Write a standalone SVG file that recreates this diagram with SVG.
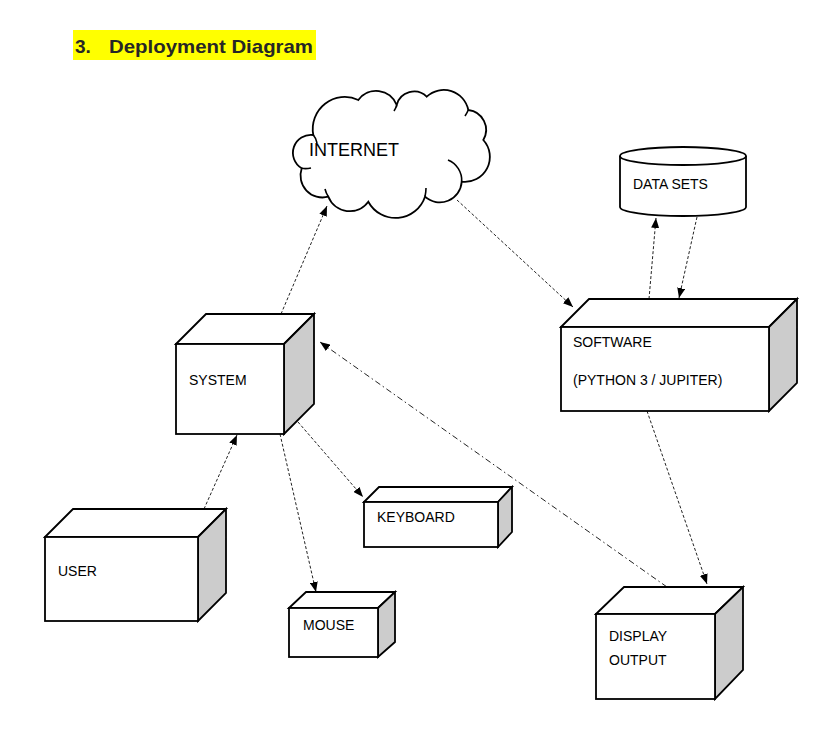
<svg xmlns="http://www.w3.org/2000/svg" width="823" height="731" viewBox="0 0 823 731">
<defs>
<style>
.face{fill:#fff;stroke:#000;stroke-width:1.8;stroke-linejoin:miter}
.side{fill:#cccccc;stroke:#000;stroke-width:1.8;stroke-linejoin:miter}
.lbl{font-family:"Liberation Sans",Arial,sans-serif;font-size:14px;fill:#000}
.conn{fill:none;stroke:#222;stroke-width:1;stroke-dasharray:3 2}
.dd{fill:none;stroke:#222;stroke-width:1;stroke-dasharray:6 3 1.5 3}
</style>
<marker id="arr" viewBox="0 0 10 8" refX="10" refY="4" markerWidth="10" markerHeight="8" markerUnits="userSpaceOnUse" orient="auto">
<path d="M0,0 L10,4 L0,8 z" fill="#000"/>
</marker>
</defs>
<rect width="823" height="731" fill="#fff"/>

<g id="title">
<rect x="73" y="30" width="243" height="30" fill="#ffff00"/>
<text x="75" y="53" font-family="'Liberation Sans',Arial,sans-serif" font-weight="bold" font-size="19" fill="#262626">3.</text>
<text x="109" y="53" font-family="'Liberation Sans',Arial,sans-serif" font-weight="bold" font-size="19" fill="#262626" textLength="204" lengthAdjust="spacingAndGlyphs">Deployment Diagram</text>
</g>

<g id="connectors">
<line class="conn" x1="281" y1="314" x2="327" y2="206" marker-end="url(#arr)"/>
<line class="conn" x1="457" y1="200" x2="573" y2="307" marker-end="url(#arr)"/>
<line class="conn" x1="649" y1="299" x2="656" y2="218" marker-end="url(#arr)"/>
<line class="conn" x1="697" y1="217" x2="679" y2="298" marker-end="url(#arr)"/>
<line class="conn" x1="204" y1="509" x2="237" y2="435" marker-end="url(#arr)"/>
<line class="conn" x1="280" y1="434" x2="316" y2="592" marker-end="url(#arr)"/>
<line class="conn" x1="298" y1="422" x2="363" y2="497" marker-end="url(#arr)"/>
<line class="conn" x1="647" y1="411" x2="707" y2="584" marker-end="url(#arr)"/>
<line class="dd" x1="667" y1="587" x2="320" y2="342" marker-end="url(#arr)"/>
</g>

<g id="internet">
<path class="face" d="M313.3,135 A32,32 0 0 1 358.3,100 A22,22 0 0 1 396.7,105 A18,18 0 0 1 426.7,96.7 A25,25 0 0 1 468.3,110 A20,20 0 0 1 483.3,140 A25,25 0 0 1 461.7,181.7 A22,22 0 0 1 425,196.7 A31,31 0 0 1 368.3,201.7 A23,23 0 0 1 328.3,196.7 A22,22 0 0 1 301.7,168.3 A18,18 0 0 1 313.3,135 Z"/>
<path fill="none" stroke="#000" stroke-width="1.6" d="M448,160 A22,22 0 0 1 461.7,181.7 M313.3,135 Q316,138 317,143 M396.7,105 Q396,108 394,111 M468.3,110 Q467,113 465,116 M425,196.7 Q426,192 426,188 M328.3,196.7 Q326,193 325,189 M301.7,168.3 Q306,169 311,168"/>
<text x="309" y="156" font-family="'Liberation Sans',Arial,sans-serif" font-size="18" fill="#000">INTERNET</text>
</g>

<g id="datasets">
<path class="face" d="M620,156 L620,207 A63,9 0 0 0 746,207 L746,156"/>
<ellipse class="face" cx="683" cy="156" rx="63" ry="9"/>
<text class="lbl" x="633" y="189">DATA SETS</text>
</g>

<g id="system">
<polygon class="face" points="176,344 206,314 314,314 284,344"/>
<polygon class="side" points="284,344 314,314 314,404 284,434"/>
<rect class="face" x="176" y="344" width="108" height="90"/>
<text class="lbl" x="189" y="385">SYSTEM</text>
</g>

<g id="software">
<polygon class="face" points="561,327 589,299 797,299 769,327"/>
<polygon class="side" points="769,327 797,299 797,383 769,411"/>
<rect class="face" x="561" y="327" width="208" height="84"/>
<text class="lbl" x="573" y="347">SOFTWARE</text>
<text class="lbl" x="573" y="385">(PYTHON 3 / JUPITER)</text>
</g>

<g id="user">
<polygon class="face" points="45,537 73,509 226,509 198,537"/>
<polygon class="side" points="198,537 226,509 226,593 198,621"/>
<rect class="face" x="45" y="537" width="153" height="84"/>
<text class="lbl" x="58" y="576">USER</text>
</g>

<g id="keyboard">
<polygon class="face" points="364,502 379,487 512,487 498,502"/>
<polygon class="side" points="498,502 512,487 512,532 498,547"/>
<rect class="face" x="364" y="502" width="134" height="45"/>
<text class="lbl" x="377" y="522">KEYBOARD</text>
</g>

<g id="mouse">
<polygon class="face" points="289,608 306,592 395,592 378,608"/>
<polygon class="side" points="378,608 395,592 395,642 378,657"/>
<rect class="face" x="289" y="608" width="89" height="49"/>
<text class="lbl" x="303" y="630">MOUSE</text>
</g>

<g id="display">
<polygon class="face" points="596,614 624,587 743,587 715,614"/>
<polygon class="side" points="715,614 743,587 743,670 715,699"/>
<rect class="face" x="596" y="614" width="119" height="85"/>
<text class="lbl" x="609" y="641">DISPLAY</text>
<text class="lbl" x="609" y="665">OUTPUT</text>
</g>
</svg>
